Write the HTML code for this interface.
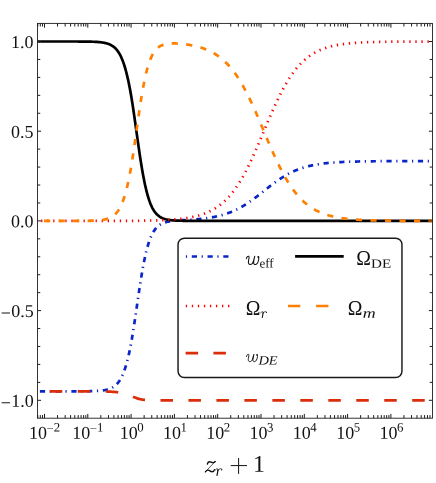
<!DOCTYPE html>
<html><head><meta charset="utf-8"><title>plot</title>
<style>
html,body{margin:0;padding:0;background:#fff;}
svg{display:block;will-change:transform;font-family:"Liberation Serif",serif;fill:#111;}
</style></head><body>
<svg width="436" height="483" viewBox="0 0 436 483">
<rect width="436" height="483" fill="#fff"/>
<defs><clipPath id="c"><rect x="37.45" y="23.40" width="395.05" height="394.80"/></clipPath></defs>
<g clip-path="url(#c)">
<path d="M37.45 391.33 L38.38 391.33 L39.44 391.33 L40.51 391.33 L41.57 391.33 L42.64 391.33 L43.70 391.33 L44.77 391.33 L45.83 391.33 L46.90 391.33 L47.96 391.33 L49.03 391.33 L50.09 391.33 L51.16 391.33 L52.22 391.33 L53.29 391.33 L54.35 391.33 L55.42 391.33 L56.48 391.33 L57.55 391.33 L58.61 391.33 L59.68 391.33 L60.74 391.33 L61.80 391.33 L62.87 391.33 L63.93 391.33 L65.00 391.33 L66.06 391.33 L67.13 391.33 L68.19 391.33 L69.26 391.32 L70.32 391.32 L71.39 391.32 L72.45 391.32 L73.52 391.32 L74.58 391.32 L75.65 391.32 L76.71 391.31 L77.78 391.31 L78.84 391.31 L79.91 391.30 L80.97 391.30 L82.04 391.29 L83.10 391.28 L84.17 391.28 L85.23 391.27 L86.30 391.26 L87.36 391.24 L88.43 391.23 L89.49 391.21 L90.56 391.19 L91.62 391.17 L92.69 391.14 L93.75 391.10 L94.82 391.06 L95.88 391.02 L96.94 390.96 L97.74 390.91 L98.54 390.86 L99.34 390.80 L100.14 390.73 L100.94 390.66 L101.74 390.57 L102.54 390.47 L103.33 390.36 L104.13 390.24 L104.93 390.10 L105.73 389.94 L106.53 389.77 L107.33 389.57 L108.13 389.34 L108.92 389.09 L109.72 388.80 L110.52 388.48 L111.32 388.12 L112.12 387.72 L112.92 387.27 L113.72 386.76 L114.51 386.18 L115.31 385.54 L116.11 384.82 L116.91 384.02 L117.71 383.12 L118.24 382.46 L118.77 381.76 L119.31 381.00 L119.84 380.18 L120.37 379.31 L120.90 378.37 L121.44 377.36 L121.97 376.29 L122.50 375.13 L123.03 373.90 L123.57 372.59 L124.10 371.19 L124.63 369.70 L124.90 368.92 L125.16 368.12 L125.43 367.29 L125.70 366.43 L125.96 365.56 L126.23 364.65 L126.49 363.72 L126.76 362.77 L127.03 361.79 L127.29 360.78 L127.56 359.74 L127.83 358.68 L128.09 357.59 L128.36 356.47 L128.62 355.32 L128.89 354.15 L129.16 352.95 L129.42 351.72 L129.69 350.46 L129.95 349.18 L130.22 347.87 L130.49 346.53 L130.75 345.17 L131.02 343.78 L131.29 342.31 L131.55 340.80 L131.82 339.25 L132.08 337.68 L132.35 336.09 L132.62 334.46 L132.88 332.82 L133.15 331.15 L133.42 329.46 L133.68 327.76 L133.95 326.03 L134.21 324.28 L134.48 322.52 L134.75 320.74 L135.01 318.95 L135.28 317.15 L135.55 315.34 L135.81 313.52 L136.08 311.69 L136.34 309.86 L136.61 308.02 L136.88 306.19 L137.14 304.35 L137.41 302.51 L137.67 300.68 L137.94 298.85 L138.21 297.03 L138.47 295.22 L138.74 293.42 L139.01 291.63 L139.27 289.85 L139.54 288.09 L139.80 286.34 L140.07 284.61 L140.34 282.90 L140.60 281.21 L140.87 279.55 L141.14 277.90 L141.40 276.28 L141.67 274.68 L141.93 273.11 L142.20 271.56 L142.47 270.04 L142.73 268.55 L143.00 267.09 L143.27 265.65 L143.53 264.25 L143.80 262.87 L144.06 261.53 L144.33 260.21 L144.60 258.92 L144.86 257.67 L145.13 256.44 L145.40 255.25 L145.66 254.08 L145.93 252.95 L146.19 251.85 L146.46 250.77 L146.73 249.73 L146.99 248.71 L147.26 247.72 L147.52 246.77 L147.79 245.84 L148.06 244.93 L148.32 244.06 L148.59 243.21 L148.86 242.39 L149.12 241.59 L149.39 240.82 L149.92 239.36 L150.45 237.98 L150.99 236.70 L151.52 235.51 L152.05 234.39 L152.58 233.35 L153.12 232.39 L153.65 231.49 L154.18 230.66 L154.71 229.89 L155.24 229.17 L155.78 228.50 L156.31 227.89 L157.11 227.05 L157.91 226.31 L158.71 225.64 L159.50 225.05 L160.30 224.53 L161.10 224.06 L161.90 223.65 L162.70 223.28 L163.50 222.96 L164.30 222.67 L165.09 222.41 L165.89 222.18 L166.69 221.98 L167.49 221.79 L168.29 221.63 L169.09 221.48 L169.89 221.35 L170.69 221.23 L171.48 221.12 L172.28 221.03 L173.08 220.94 L173.88 220.86 L174.68 220.78 L175.48 220.71 L176.28 220.65 L177.07 220.59 L177.87 220.53 L178.67 220.47 L179.47 220.42 L180.27 220.37 L181.07 220.32 L181.87 220.27 L182.66 220.22 L183.46 220.18 L184.26 220.13 L185.06 220.08 L185.86 220.04 L186.66 219.99 L187.46 219.94 L188.26 219.89 L189.05 219.84 L189.85 219.79 L190.65 219.74 L191.45 219.68 L192.25 219.63 L193.05 219.57 L193.85 219.51 L194.64 219.45 L195.44 219.38 L196.24 219.32 L197.04 219.25 L197.84 219.18 L198.64 219.10 L199.44 219.03 L200.23 218.95 L201.03 218.86 L201.83 218.78 L202.63 218.69 L203.43 218.59 L204.23 218.50 L205.03 218.40 L205.82 218.29 L206.62 218.18 L207.42 218.07 L208.22 217.95 L209.02 217.83 L209.82 217.71 L210.62 217.58 L211.42 217.44 L212.21 217.30 L213.01 217.15 L213.81 217.00 L214.61 216.84 L215.41 216.68 L216.21 216.51 L217.01 216.33 L217.80 216.15 L218.60 215.96 L219.40 215.76 L220.20 215.56 L221.00 215.35 L221.80 215.13 L222.60 214.91 L223.39 214.67 L224.19 214.43 L224.99 214.19 L225.79 213.93 L226.59 213.66 L227.39 213.39 L228.19 213.10 L228.99 212.81 L229.78 212.51 L230.58 212.20 L231.38 211.88 L232.18 211.55 L232.98 211.21 L233.78 210.86 L234.58 210.50 L235.37 210.13 L236.17 209.75 L236.97 209.36 L237.77 208.96 L238.57 208.55 L239.37 208.12 L240.17 207.69 L240.96 207.25 L241.76 206.80 L242.56 206.33 L243.36 205.86 L244.16 205.38 L244.96 204.89 L245.76 204.38 L246.56 203.87 L247.35 203.35 L248.15 202.82 L248.95 202.28 L249.75 201.73 L250.55 201.17 L251.35 200.60 L252.15 200.03 L252.94 199.45 L253.74 198.86 L254.54 198.27 L255.34 197.67 L256.14 197.06 L256.94 196.45 L257.74 195.84 L258.53 195.21 L259.33 194.59 L260.13 193.96 L260.93 193.33 L261.73 192.70 L262.53 192.07 L263.33 191.43 L264.13 190.80 L264.92 190.16 L265.72 189.53 L266.52 188.90 L267.32 188.27 L268.12 187.64 L268.92 187.01 L269.72 186.39 L270.51 185.77 L271.31 185.16 L272.11 184.55 L272.91 183.95 L273.71 183.35 L274.51 182.76 L275.31 182.18 L276.10 181.60 L276.90 181.04 L277.70 180.48 L278.50 179.92 L279.30 179.38 L280.10 178.85 L280.90 178.32 L281.69 177.80 L282.49 177.30 L283.29 176.80 L284.09 176.31 L284.89 175.84 L285.69 175.37 L286.49 174.91 L287.29 174.47 L288.08 174.03 L288.88 173.61 L289.68 173.19 L290.48 172.79 L291.28 172.39 L292.08 172.01 L292.88 171.64 L293.67 171.27 L294.47 170.92 L295.27 170.58 L296.07 170.24 L296.87 169.92 L297.67 169.60 L298.47 169.30 L299.26 169.00 L300.06 168.72 L300.86 168.44 L301.66 168.17 L302.46 167.91 L303.26 167.66 L304.06 167.41 L304.86 167.18 L305.65 166.95 L306.45 166.73 L307.25 166.52 L308.05 166.31 L308.85 166.11 L309.65 165.92 L310.45 165.74 L311.24 165.56 L312.04 165.38 L312.84 165.22 L313.64 165.06 L314.44 164.90 L315.24 164.76 L316.04 164.61 L316.83 164.48 L317.63 164.34 L318.43 164.21 L319.23 164.09 L320.03 163.97 L320.83 163.86 L321.63 163.75 L322.43 163.64 L323.22 163.54 L324.02 163.45 L324.82 163.35 L325.62 163.26 L326.42 163.17 L327.22 163.09 L328.02 163.01 L328.81 162.93 L329.61 162.86 L330.41 162.79 L331.21 162.72 L332.01 162.65 L332.81 162.59 L333.61 162.53 L334.40 162.47 L335.20 162.42 L336.00 162.36 L336.80 162.31 L337.60 162.26 L338.40 162.22 L339.46 162.15 L340.53 162.10 L341.59 162.04 L342.66 161.99 L343.72 161.94 L344.79 161.90 L345.85 161.85 L346.92 161.81 L347.98 161.77 L349.05 161.74 L350.11 161.70 L351.18 161.67 L352.24 161.64 L353.31 161.61 L354.37 161.58 L355.44 161.56 L356.50 161.53 L357.57 161.51 L358.63 161.49 L359.69 161.46 L360.76 161.44 L361.82 161.43 L362.89 161.41 L363.95 161.39 L365.02 161.37 L366.08 161.36 L367.15 161.35 L368.21 161.33 L369.28 161.32 L370.34 161.31 L371.41 161.30 L372.47 161.29 L373.54 161.27 L374.60 161.27 L375.67 161.26 L376.73 161.25 L377.80 161.24 L378.86 161.23 L379.93 161.22 L380.99 161.22 L382.06 161.21 L383.12 161.21 L384.19 161.20 L385.25 161.19 L386.32 161.19 L387.38 161.18 L388.45 161.18 L389.51 161.17 L390.58 161.17 L391.64 161.17 L392.70 161.16 L393.77 161.16 L394.83 161.16 L395.90 161.15 L396.96 161.15 L398.03 161.15 L399.09 161.15 L400.16 161.14 L401.22 161.14 L402.29 161.14 L403.35 161.14 L404.42 161.13 L405.48 161.13 L406.55 161.13 L407.61 161.13 L408.68 161.13 L409.74 161.13 L410.81 161.12 L411.87 161.12 L412.94 161.12 L414.00 161.12 L415.07 161.12 L416.13 161.12 L417.20 161.12 L418.26 161.12 L419.33 161.12 L420.39 161.11 L421.46 161.11 L422.52 161.11 L423.59 161.11 L424.65 161.11 L425.72 161.11 L426.78 161.11 L427.84 161.11 L428.91 161.11 L429.97 161.11 L431.04 161.11 L432.10 161.11 L433.17 161.11 L434.23 161.11" fill="none" stroke="#0a26c8" stroke-width="2.7" stroke-dasharray="1.2 4.7 5.2 4.635" stroke-dashoffset="3.45" stroke-linejoin="round"/>
<path d="M37.45 41.50 L38.38 41.50 L39.44 41.50 L40.51 41.50 L41.57 41.50 L42.64 41.50 L43.70 41.50 L44.77 41.50 L45.83 41.50 L46.90 41.50 L47.96 41.50 L49.03 41.50 L50.09 41.50 L51.16 41.50 L52.22 41.50 L53.29 41.50 L54.35 41.50 L55.42 41.50 L56.48 41.50 L57.55 41.50 L58.61 41.50 L59.68 41.50 L60.74 41.50 L61.80 41.50 L62.87 41.50 L63.93 41.50 L65.00 41.50 L66.06 41.50 L67.13 41.50 L68.19 41.51 L69.26 41.51 L70.32 41.51 L71.39 41.51 L72.45 41.51 L73.52 41.51 L74.58 41.51 L75.65 41.52 L76.71 41.52 L77.78 41.52 L78.84 41.53 L79.91 41.53 L80.97 41.54 L82.04 41.55 L83.10 41.55 L84.17 41.56 L85.23 41.57 L86.30 41.59 L87.36 41.60 L88.43 41.62 L89.49 41.64 L90.56 41.66 L91.62 41.69 L92.69 41.73 L93.75 41.77 L94.82 41.81 L95.88 41.87 L96.68 41.92 L97.48 41.97 L98.28 42.03 L99.07 42.10 L99.87 42.17 L100.67 42.26 L101.47 42.36 L102.27 42.47 L103.07 42.59 L103.87 42.73 L104.66 42.89 L105.46 43.07 L106.26 43.27 L107.06 43.49 L107.86 43.74 L108.66 44.03 L109.46 44.35 L110.26 44.71 L111.05 45.11 L111.85 45.57 L112.65 46.08 L113.45 46.65 L114.25 47.29 L115.05 48.01 L115.85 48.81 L116.64 49.71 L117.18 50.36 L117.71 51.07 L118.24 51.83 L118.77 52.64 L119.31 53.51 L119.84 54.45 L120.37 55.45 L120.90 56.53 L121.44 57.68 L121.97 58.91 L122.50 60.22 L123.03 61.61 L123.57 63.10 L123.83 63.88 L124.10 64.68 L124.36 65.51 L124.63 66.36 L124.90 67.24 L125.16 68.14 L125.43 69.07 L125.70 70.02 L125.96 71.00 L126.23 72.01 L126.49 73.05 L126.76 74.11 L127.03 75.20 L127.29 76.32 L127.56 77.47 L127.83 78.64 L128.09 79.84 L128.36 81.08 L128.62 82.33 L128.89 83.62 L129.16 84.94 L129.42 86.28 L129.69 87.65 L129.95 89.04 L130.22 90.47 L130.49 91.92 L130.75 93.39 L131.02 94.89 L131.29 96.48 L131.55 98.11 L131.82 99.77 L132.08 101.45 L132.35 103.16 L132.62 104.89 L132.88 106.64 L133.15 108.41 L133.42 110.21 L133.68 112.02 L133.95 113.84 L134.21 115.68 L134.48 117.54 L134.75 119.41 L135.01 121.28 L135.28 123.17 L135.55 125.06 L135.81 126.96 L136.08 128.86 L136.34 130.77 L136.61 132.68 L136.88 134.58 L137.14 136.48 L137.41 138.38 L137.67 140.27 L137.94 142.15 L138.21 144.02 L138.47 145.88 L138.74 147.73 L139.01 149.56 L139.27 151.38 L139.54 153.18 L139.80 154.96 L140.07 156.72 L140.34 158.46 L140.60 160.18 L140.87 161.88 L141.14 163.55 L141.40 165.19 L141.67 166.81 L141.93 168.40 L142.20 169.97 L142.47 171.50 L142.73 173.01 L143.00 174.49 L143.27 175.93 L143.53 177.35 L143.80 178.73 L144.06 180.09 L144.33 181.41 L144.60 182.71 L144.86 183.97 L145.13 185.20 L145.40 186.40 L145.66 187.57 L145.93 188.71 L146.19 189.81 L146.46 190.89 L146.73 191.94 L146.99 192.95 L147.26 193.94 L147.52 194.90 L147.79 195.83 L148.06 196.73 L148.32 197.61 L148.59 198.46 L148.86 199.28 L149.12 200.07 L149.39 200.84 L149.92 202.31 L150.45 203.68 L150.99 204.96 L151.52 206.15 L152.05 207.26 L152.58 208.29 L153.12 209.25 L153.65 210.15 L154.18 210.97 L154.71 211.74 L155.24 212.45 L155.78 213.11 L156.31 213.72 L157.11 214.55 L157.91 215.29 L158.71 215.94 L159.50 216.52 L160.30 217.03 L161.10 217.49 L161.90 217.89 L162.70 218.25 L163.50 218.56 L164.30 218.84 L165.09 219.08 L165.89 219.30 L166.69 219.49 L167.49 219.66 L168.29 219.80 L169.09 219.93 L169.89 220.05 L170.69 220.15 L171.48 220.24 L172.28 220.32 L173.08 220.39 L173.88 220.45 L174.68 220.50 L175.48 220.55 L176.54 220.61 L177.61 220.65 L178.67 220.69 L179.74 220.72 L180.80 220.75 L181.87 220.77 L182.93 220.79 L184.00 220.81 L185.06 220.82 L186.13 220.84 L187.19 220.85 L188.26 220.85 L189.32 220.86 L190.38 220.87 L191.45 220.87 L192.51 220.88 L193.58 220.88 L194.64 220.88 L195.71 220.89 L196.77 220.89 L197.84 220.89 L198.90 220.89 L199.97 220.89 L201.03 220.89 L202.10 220.90 L203.16 220.90 L204.23 220.90 L205.29 220.90 L206.36 220.90 L207.42 220.90 L208.49 220.90 L209.55 220.90 L210.62 220.90 L211.68 220.90 L212.75 220.90 L213.81 220.90 L214.88 220.90 L215.94 220.90 L217.01 220.90 L218.07 220.90 L219.14 220.90 L220.20 220.90 L221.27 220.90 L222.33 220.90 L223.39 220.90 L224.46 220.90 L225.52 220.90 L226.59 220.90 L227.65 220.90 L228.72 220.90 L229.78 220.90 L230.85 220.90 L231.91 220.90 L232.98 220.90 L234.04 220.90 L235.11 220.90 L236.17 220.90 L237.24 220.90 L238.30 220.90 L239.37 220.90 L240.43 220.90 L241.50 220.90 L242.56 220.90 L243.63 220.90 L244.69 220.90 L245.76 220.90 L246.82 220.90 L247.89 220.90 L248.95 220.90 L250.02 220.90 L251.08 220.90 L252.15 220.90 L253.21 220.90 L254.28 220.90 L255.34 220.90 L256.40 220.90 L257.47 220.90 L258.53 220.90 L259.60 220.90 L260.66 220.90 L261.73 220.90 L262.79 220.90 L263.86 220.90 L264.92 220.90 L265.99 220.90 L267.05 220.90 L268.12 220.90 L269.18 220.90 L270.25 220.90 L271.31 220.90 L272.38 220.90 L273.44 220.90 L274.51 220.90 L275.57 220.90 L276.64 220.90 L277.70 220.90 L278.77 220.90 L279.83 220.90 L280.90 220.90 L281.96 220.90 L283.03 220.90 L284.09 220.90 L285.16 220.90 L286.22 220.90 L287.29 220.90 L288.35 220.90 L289.42 220.90 L290.48 220.90 L291.54 220.90 L292.61 220.90 L293.67 220.90 L294.74 220.90 L295.80 220.90 L296.87 220.90 L297.93 220.90 L299.00 220.90 L300.06 220.90 L301.13 220.90 L302.19 220.90 L303.26 220.90 L304.32 220.90 L305.39 220.90 L306.45 220.90 L307.52 220.90 L308.58 220.90 L309.65 220.90 L310.71 220.90 L311.78 220.90 L312.84 220.90 L313.91 220.90 L314.97 220.90 L316.04 220.90 L317.10 220.90 L318.17 220.90 L319.23 220.90 L320.30 220.90 L321.36 220.90 L322.43 220.90 L323.49 220.90 L324.55 220.90 L325.62 220.90 L326.68 220.90 L327.75 220.90 L328.81 220.90 L329.88 220.90 L330.94 220.90 L332.01 220.90 L333.07 220.90 L334.14 220.90 L335.20 220.90 L336.27 220.90 L337.33 220.90 L338.40 220.90 L339.46 220.90 L340.53 220.90 L341.59 220.90 L342.66 220.90 L343.72 220.90 L344.79 220.90 L345.85 220.90 L346.92 220.90 L347.98 220.90 L349.05 220.90 L350.11 220.90 L351.18 220.90 L352.24 220.90 L353.31 220.90 L354.37 220.90 L355.44 220.90 L356.50 220.90 L357.57 220.90 L358.63 220.90 L359.69 220.90 L360.76 220.90 L361.82 220.90 L362.89 220.90 L363.95 220.90 L365.02 220.90 L366.08 220.90 L367.15 220.90 L368.21 220.90 L369.28 220.90 L370.34 220.90 L371.41 220.90 L372.47 220.90 L373.54 220.90 L374.60 220.90 L375.67 220.90 L376.73 220.90 L377.80 220.90 L378.86 220.90 L379.93 220.90 L380.99 220.90 L382.06 220.90 L383.12 220.90 L384.19 220.90 L385.25 220.90 L386.32 220.90 L387.38 220.90 L388.45 220.90 L389.51 220.90 L390.58 220.90 L391.64 220.90 L392.70 220.90 L393.77 220.90 L394.83 220.90 L395.90 220.90 L396.96 220.90 L398.03 220.90 L399.09 220.90 L400.16 220.90 L401.22 220.90 L402.29 220.90 L403.35 220.90 L404.42 220.90 L405.48 220.90 L406.55 220.90 L407.61 220.90 L408.68 220.90 L409.74 220.90 L410.81 220.90 L411.87 220.90 L412.94 220.90 L414.00 220.90 L415.07 220.90 L416.13 220.90 L417.20 220.90 L418.26 220.90 L419.33 220.90 L420.39 220.90 L421.46 220.90 L422.52 220.90 L423.59 220.90 L424.65 220.90 L425.72 220.90 L426.78 220.90 L427.84 220.90 L428.91 220.90 L429.97 220.90 L431.04 220.90 L432.10 220.90 L433.17 220.90 L434.23 220.90" fill="none" stroke="#000" stroke-width="2.7" stroke-linejoin="round"/>
<path d="M37.45 220.90 L38.38 220.90 L39.44 220.90 L40.51 220.90 L41.57 220.90 L42.64 220.90 L43.70 220.90 L44.77 220.90 L45.83 220.90 L46.90 220.90 L47.96 220.90 L49.03 220.90 L50.09 220.90 L51.16 220.90 L52.22 220.90 L53.29 220.90 L54.35 220.90 L55.42 220.90 L56.48 220.90 L57.55 220.90 L58.61 220.90 L59.68 220.90 L60.74 220.90 L61.80 220.90 L62.87 220.90 L63.93 220.90 L65.00 220.90 L66.06 220.90 L67.13 220.90 L68.19 220.90 L69.26 220.90 L70.32 220.90 L71.39 220.90 L72.45 220.90 L73.52 220.90 L74.58 220.90 L75.65 220.90 L76.71 220.90 L77.78 220.90 L78.84 220.90 L79.91 220.90 L80.97 220.90 L82.04 220.90 L83.10 220.90 L84.17 220.90 L85.23 220.90 L86.30 220.90 L87.36 220.90 L88.43 220.90 L89.49 220.90 L90.56 220.90 L91.62 220.90 L92.69 220.90 L93.75 220.90 L94.82 220.90 L95.88 220.90 L96.94 220.90 L98.01 220.90 L99.07 220.90 L100.14 220.90 L101.20 220.90 L102.27 220.90 L103.33 220.90 L104.40 220.90 L105.46 220.90 L106.53 220.90 L107.59 220.90 L108.66 220.90 L109.72 220.90 L110.79 220.90 L111.85 220.90 L112.92 220.90 L113.98 220.90 L115.05 220.90 L116.11 220.90 L117.18 220.90 L118.24 220.90 L119.31 220.89 L120.37 220.89 L121.44 220.89 L122.50 220.89 L123.57 220.89 L124.63 220.88 L125.70 220.88 L126.76 220.88 L127.83 220.87 L128.89 220.87 L129.95 220.86 L131.02 220.85 L132.08 220.85 L133.15 220.84 L134.21 220.82 L135.28 220.81 L136.34 220.80 L137.41 220.78 L138.47 220.77 L139.54 220.75 L140.60 220.73 L141.67 220.71 L142.73 220.69 L143.80 220.67 L144.86 220.65 L145.93 220.62 L146.99 220.60 L148.06 220.57 L149.12 220.55 L150.19 220.52 L151.25 220.49 L152.32 220.46 L153.38 220.43 L154.45 220.40 L155.51 220.36 L156.58 220.33 L157.64 220.29 L158.71 220.25 L159.77 220.21 L160.84 220.17 L161.90 220.12 L162.96 220.08 L164.03 220.03 L165.09 219.98 L166.16 219.92 L167.22 219.86 L168.29 219.80 L169.09 219.75 L169.89 219.70 L170.69 219.65 L171.48 219.60 L172.28 219.54 L173.08 219.48 L173.88 219.42 L174.68 219.35 L175.48 219.29 L176.28 219.22 L177.07 219.14 L177.87 219.07 L178.67 218.99 L179.47 218.91 L180.27 218.82 L181.07 218.73 L181.87 218.64 L182.66 218.54 L183.46 218.44 L184.26 218.34 L185.06 218.23 L185.86 218.11 L186.66 217.99 L187.46 217.87 L188.26 217.74 L189.05 217.61 L189.85 217.47 L190.65 217.32 L191.45 217.17 L192.25 217.01 L193.05 216.84 L193.85 216.67 L194.64 216.49 L195.44 216.31 L196.24 216.11 L197.04 215.91 L197.84 215.70 L198.64 215.48 L199.44 215.25 L200.23 215.02 L201.03 214.77 L201.83 214.51 L202.63 214.25 L203.43 213.97 L204.23 213.68 L205.03 213.38 L205.82 213.07 L206.62 212.74 L207.42 212.41 L208.22 212.06 L209.02 211.69 L209.82 211.31 L210.62 210.92 L211.42 210.51 L212.21 210.09 L213.01 209.65 L213.81 209.19 L214.61 208.72 L215.41 208.23 L216.21 207.72 L217.01 207.19 L217.80 206.65 L218.60 206.08 L219.40 205.49 L220.20 204.88 L221.00 204.25 L221.80 203.60 L222.60 202.92 L223.39 202.22 L224.19 201.50 L224.99 200.75 L225.79 199.98 L226.59 199.18 L227.39 198.36 L228.19 197.51 L228.99 196.63 L229.52 196.03 L230.05 195.42 L230.58 194.80 L231.11 194.16 L231.65 193.51 L232.18 192.84 L232.71 192.17 L233.24 191.48 L233.78 190.77 L234.31 190.06 L234.84 189.33 L235.37 188.58 L235.91 187.83 L236.44 187.06 L236.97 186.27 L237.50 185.47 L238.04 184.66 L238.57 183.84 L239.10 183.00 L239.63 182.14 L240.17 181.28 L240.70 180.40 L241.23 179.50 L241.76 178.59 L242.30 177.67 L242.83 176.73 L243.36 175.78 L243.89 174.82 L244.43 173.85 L244.96 172.86 L245.49 171.85 L246.02 170.84 L246.56 169.81 L247.09 168.77 L247.62 167.72 L248.15 166.65 L248.68 165.57 L249.22 164.48 L249.75 163.38 L250.28 162.27 L250.81 161.15 L251.35 160.01 L251.88 158.87 L252.41 157.72 L252.94 156.55 L253.48 155.38 L254.01 154.20 L254.54 153.01 L255.07 151.81 L255.61 150.60 L256.14 149.39 L256.67 148.17 L257.20 146.94 L257.74 145.71 L258.27 144.47 L258.80 143.22 L259.33 141.97 L259.87 140.72 L260.40 139.46 L260.93 138.20 L261.46 136.94 L262.00 135.67 L262.53 134.40 L263.06 133.14 L263.59 131.87 L264.13 130.60 L264.66 129.33 L265.19 128.06 L265.72 126.79 L266.25 125.52 L266.79 124.26 L267.32 123.00 L267.85 121.74 L268.38 120.49 L268.92 119.24 L269.45 117.99 L269.98 116.75 L270.51 115.52 L271.05 114.29 L271.58 113.07 L272.11 111.86 L272.64 110.65 L273.18 109.45 L273.71 108.26 L274.24 107.08 L274.77 105.90 L275.31 104.74 L275.84 103.59 L276.37 102.44 L276.90 101.31 L277.44 100.18 L277.97 99.07 L278.50 97.97 L279.03 96.88 L279.57 95.80 L280.10 94.74 L280.63 93.68 L281.16 92.64 L281.69 91.61 L282.23 90.60 L282.76 89.59 L283.29 88.60 L283.82 87.63 L284.36 86.66 L284.89 85.71 L285.42 84.78 L285.95 83.85 L286.49 82.94 L287.02 82.05 L287.55 81.17 L288.08 80.30 L288.62 79.44 L289.15 78.60 L289.68 77.78 L290.21 76.97 L290.75 76.17 L291.28 75.38 L291.81 74.61 L292.34 73.85 L292.88 73.11 L293.41 72.38 L293.94 71.66 L294.47 70.96 L295.01 70.27 L295.54 69.59 L296.07 68.93 L296.60 68.27 L297.14 67.64 L297.67 67.01 L298.20 66.40 L298.73 65.80 L299.53 64.92 L300.33 64.07 L301.13 63.24 L301.93 62.44 L302.73 61.67 L303.52 60.92 L304.32 60.20 L305.12 59.50 L305.92 58.82 L306.72 58.17 L307.52 57.54 L308.32 56.93 L309.11 56.34 L309.91 55.77 L310.71 55.22 L311.51 54.70 L312.31 54.19 L313.11 53.69 L313.91 53.22 L314.71 52.76 L315.50 52.32 L316.30 51.90 L317.10 51.49 L317.90 51.10 L318.70 50.72 L319.50 50.36 L320.30 50.00 L321.09 49.67 L321.89 49.34 L322.69 49.03 L323.49 48.73 L324.29 48.44 L325.09 48.16 L325.89 47.90 L326.68 47.64 L327.48 47.39 L328.28 47.15 L329.08 46.93 L329.88 46.71 L330.68 46.50 L331.48 46.29 L332.28 46.10 L333.07 45.91 L333.87 45.73 L334.67 45.56 L335.47 45.40 L336.27 45.24 L337.07 45.09 L337.87 44.94 L338.66 44.80 L339.46 44.66 L340.26 44.54 L341.06 44.41 L341.86 44.29 L342.66 44.18 L343.46 44.07 L344.25 43.96 L345.05 43.86 L345.85 43.76 L346.65 43.67 L347.45 43.58 L348.25 43.50 L349.05 43.41 L349.84 43.34 L350.64 43.26 L351.44 43.19 L352.24 43.12 L353.04 43.05 L353.84 42.99 L354.64 42.93 L355.44 42.87 L356.23 42.81 L357.03 42.76 L357.83 42.70 L358.63 42.66 L359.43 42.61 L360.49 42.55 L361.56 42.49 L362.62 42.44 L363.69 42.38 L364.75 42.34 L365.82 42.29 L366.88 42.25 L367.95 42.21 L369.01 42.17 L370.08 42.13 L371.14 42.10 L372.21 42.06 L373.27 42.03 L374.34 42.00 L375.40 41.98 L376.47 41.95 L377.53 41.92 L378.60 41.90 L379.66 41.88 L380.73 41.86 L381.79 41.84 L382.86 41.82 L383.92 41.80 L384.98 41.79 L386.05 41.77 L387.11 41.76 L388.18 41.74 L389.24 41.73 L390.31 41.72 L391.37 41.70 L392.44 41.69 L393.50 41.68 L394.57 41.67 L395.63 41.66 L396.70 41.65 L397.76 41.64 L398.83 41.64 L399.89 41.63 L400.96 41.62 L402.02 41.62 L403.09 41.61 L404.15 41.60 L405.22 41.60 L406.28 41.59 L407.35 41.59 L408.41 41.58 L409.48 41.58 L410.54 41.57 L411.61 41.57 L412.67 41.57 L413.74 41.56 L414.80 41.56 L415.87 41.56 L416.93 41.55 L417.99 41.55 L419.06 41.55 L420.12 41.54 L421.19 41.54 L422.25 41.54 L423.32 41.54 L424.38 41.54 L425.45 41.53 L426.51 41.53 L427.58 41.53 L428.64 41.53 L429.71 41.53 L430.77 41.53 L431.84 41.52 L432.90 41.52 L433.97 41.52" fill="none" stroke="#ff0000" stroke-width="2.7" stroke-dasharray="1.3 4.752" stroke-dashoffset="2.4" stroke-linejoin="round"/>
<path d="M37.45 220.90 L38.38 220.90 L39.44 220.90 L40.51 220.90 L41.57 220.90 L42.64 220.90 L43.70 220.90 L44.77 220.90 L45.83 220.90 L46.90 220.90 L47.96 220.90 L49.03 220.90 L50.09 220.90 L51.16 220.90 L52.22 220.90 L53.29 220.90 L54.35 220.90 L55.42 220.90 L56.48 220.90 L57.55 220.90 L58.61 220.90 L59.68 220.90 L60.74 220.90 L61.80 220.90 L62.87 220.90 L63.93 220.90 L65.00 220.90 L66.06 220.90 L67.13 220.90 L68.19 220.89 L69.26 220.89 L70.32 220.89 L71.39 220.89 L72.45 220.89 L73.52 220.89 L74.58 220.89 L75.65 220.88 L76.71 220.88 L77.78 220.88 L78.84 220.87 L79.91 220.87 L80.97 220.86 L82.04 220.85 L83.10 220.85 L84.17 220.84 L85.23 220.83 L86.30 220.81 L87.36 220.80 L88.43 220.78 L89.49 220.76 L90.56 220.74 L91.62 220.71 L92.69 220.67 L93.75 220.63 L94.82 220.59 L95.88 220.53 L96.68 220.48 L97.48 220.43 L98.28 220.37 L99.07 220.30 L99.87 220.23 L100.67 220.14 L101.47 220.04 L102.27 219.93 L103.07 219.81 L103.87 219.67 L104.66 219.51 L105.46 219.33 L106.26 219.14 L107.06 218.91 L107.86 218.66 L108.66 218.37 L109.46 218.05 L110.26 217.69 L111.05 217.29 L111.85 216.84 L112.65 216.33 L113.45 215.75 L114.25 215.11 L115.05 214.40 L115.85 213.59 L116.64 212.70 L117.18 212.04 L117.71 211.34 L118.24 210.58 L118.77 209.76 L119.31 208.89 L119.84 207.96 L120.37 206.95 L120.90 205.88 L121.44 204.73 L121.97 203.50 L122.50 202.19 L123.03 200.80 L123.57 199.31 L123.83 198.53 L124.10 197.73 L124.36 196.91 L124.63 196.05 L124.90 195.18 L125.16 194.28 L125.43 193.35 L125.70 192.40 L125.96 191.41 L126.23 190.41 L126.49 189.37 L126.76 188.31 L127.03 187.22 L127.29 186.10 L127.56 184.96 L127.83 183.78 L128.09 182.58 L128.36 181.35 L128.62 180.10 L128.89 178.81 L129.16 177.50 L129.42 176.16 L129.69 174.79 L129.95 173.39 L130.22 171.97 L130.49 170.52 L130.75 169.05 L131.02 167.55 L131.29 165.97 L131.55 164.34 L131.82 162.68 L132.08 161.00 L132.35 159.30 L132.62 157.57 L132.88 155.82 L133.15 154.05 L133.42 152.26 L133.68 150.45 L133.95 148.63 L134.21 146.79 L134.48 144.94 L134.75 143.08 L135.01 141.20 L135.28 139.32 L135.55 137.43 L135.81 135.53 L136.08 133.63 L136.34 131.73 L136.61 129.83 L136.88 127.93 L137.14 126.03 L137.41 124.14 L137.67 122.25 L137.94 120.38 L138.21 118.51 L138.47 116.65 L138.74 114.81 L139.01 112.98 L139.27 111.17 L139.54 109.37 L139.80 107.59 L140.07 105.84 L140.34 104.10 L140.60 102.39 L140.87 100.70 L141.14 99.03 L141.40 97.39 L141.67 95.78 L141.93 94.19 L142.20 92.63 L142.47 91.10 L142.73 89.60 L143.00 88.13 L143.27 86.69 L143.53 85.28 L143.80 83.90 L144.06 82.55 L144.33 81.23 L144.60 79.94 L144.86 78.68 L145.13 77.46 L145.40 76.27 L145.66 75.10 L145.93 73.97 L146.19 72.87 L146.46 71.80 L146.73 70.76 L146.99 69.75 L147.26 68.77 L147.52 67.81 L147.79 66.89 L148.06 65.99 L148.32 65.12 L148.59 64.28 L148.86 63.47 L149.12 62.68 L149.39 61.92 L149.92 60.47 L150.45 59.11 L150.99 57.85 L151.52 56.67 L152.05 55.57 L152.58 54.55 L153.12 53.61 L153.65 52.73 L154.18 51.92 L154.71 51.17 L155.24 50.47 L155.78 49.83 L156.58 48.96 L157.37 48.19 L158.17 47.51 L158.97 46.92 L159.77 46.39 L160.57 45.93 L161.37 45.53 L162.17 45.17 L162.96 44.87 L163.76 44.60 L164.56 44.38 L165.36 44.18 L166.16 44.02 L166.96 43.88 L167.76 43.76 L168.56 43.67 L169.35 43.59 L170.15 43.53 L171.22 43.47 L172.28 43.44 L173.35 43.43 L174.41 43.44 L175.48 43.46 L176.54 43.50 L177.61 43.55 L178.41 43.60 L179.20 43.66 L180.00 43.72 L180.80 43.79 L181.60 43.86 L182.40 43.94 L183.20 44.03 L184.00 44.12 L184.79 44.21 L185.59 44.32 L186.39 44.43 L187.19 44.54 L187.99 44.66 L188.79 44.79 L189.59 44.92 L190.38 45.06 L191.18 45.21 L191.98 45.36 L192.78 45.52 L193.58 45.69 L194.38 45.86 L195.18 46.05 L195.98 46.24 L196.77 46.43 L197.57 46.64 L198.37 46.85 L199.17 47.08 L199.97 47.31 L200.77 47.55 L201.57 47.81 L202.36 48.07 L203.16 48.34 L203.96 48.63 L204.76 48.92 L205.56 49.23 L206.36 49.55 L207.16 49.88 L207.95 50.23 L208.75 50.59 L209.55 50.96 L210.35 51.35 L211.15 51.75 L211.95 52.17 L212.75 52.60 L213.55 53.05 L214.34 53.52 L215.14 54.00 L215.94 54.51 L216.74 55.03 L217.54 55.57 L218.34 56.13 L219.14 56.71 L219.93 57.31 L220.73 57.94 L221.53 58.58 L222.33 59.25 L223.13 59.94 L223.93 60.65 L224.73 61.39 L225.52 62.16 L226.32 62.95 L227.12 63.76 L227.92 64.60 L228.72 65.47 L229.52 66.37 L230.05 66.98 L230.58 67.60 L231.11 68.24 L231.65 68.89 L232.18 69.56 L232.71 70.23 L233.24 70.92 L233.78 71.63 L234.31 72.34 L234.84 73.07 L235.37 73.82 L235.91 74.57 L236.44 75.34 L236.97 76.13 L237.50 76.93 L238.04 77.74 L238.57 78.56 L239.10 79.40 L239.63 80.26 L240.17 81.12 L240.70 82.00 L241.23 82.90 L241.76 83.81 L242.30 84.73 L242.83 85.67 L243.36 86.62 L243.89 87.58 L244.43 88.55 L244.96 89.54 L245.49 90.55 L246.02 91.56 L246.56 92.59 L247.09 93.63 L247.62 94.68 L248.15 95.75 L248.68 96.83 L249.22 97.92 L249.75 99.02 L250.28 100.13 L250.81 101.25 L251.35 102.39 L251.88 103.53 L252.41 104.68 L252.94 105.85 L253.48 107.02 L254.01 108.20 L254.54 109.39 L255.07 110.59 L255.61 111.80 L256.14 113.01 L256.67 114.23 L257.20 115.46 L257.74 116.69 L258.27 117.93 L258.80 119.18 L259.33 120.43 L259.87 121.68 L260.40 122.94 L260.93 124.20 L261.46 125.46 L262.00 126.73 L262.53 128.00 L263.06 129.26 L263.59 130.53 L264.13 131.80 L264.66 133.07 L265.19 134.34 L265.72 135.61 L266.25 136.88 L266.79 138.14 L267.32 139.40 L267.85 140.66 L268.38 141.91 L268.92 143.16 L269.45 144.41 L269.98 145.65 L270.51 146.88 L271.05 148.11 L271.58 149.33 L272.11 150.54 L272.64 151.75 L273.18 152.95 L273.71 154.14 L274.24 155.32 L274.77 156.50 L275.31 157.66 L275.84 158.81 L276.37 159.96 L276.90 161.09 L277.44 162.22 L277.97 163.33 L278.50 164.43 L279.03 165.52 L279.57 166.60 L280.10 167.66 L280.63 168.72 L281.16 169.76 L281.69 170.79 L282.23 171.80 L282.76 172.81 L283.29 173.80 L283.82 174.77 L284.36 175.74 L284.89 176.69 L285.42 177.62 L285.95 178.55 L286.49 179.46 L287.02 180.35 L287.55 181.23 L288.08 182.10 L288.62 182.96 L289.15 183.80 L289.68 184.62 L290.21 185.43 L290.75 186.23 L291.28 187.02 L291.81 187.79 L292.34 188.55 L292.88 189.29 L293.41 190.02 L293.94 190.74 L294.47 191.44 L295.01 192.13 L295.54 192.81 L296.07 193.47 L296.60 194.13 L297.14 194.76 L297.67 195.39 L298.20 196.00 L298.73 196.60 L299.53 197.48 L300.33 198.33 L301.13 199.16 L301.93 199.96 L302.73 200.73 L303.52 201.48 L304.32 202.20 L305.12 202.90 L305.92 203.58 L306.72 204.23 L307.52 204.86 L308.32 205.47 L309.11 206.06 L309.91 206.63 L310.71 207.18 L311.51 207.70 L312.31 208.21 L313.11 208.71 L313.91 209.18 L314.71 209.64 L315.50 210.08 L316.30 210.50 L317.10 210.91 L317.90 211.30 L318.70 211.68 L319.50 212.04 L320.30 212.40 L321.09 212.73 L321.89 213.06 L322.69 213.37 L323.49 213.67 L324.29 213.96 L325.09 214.24 L325.89 214.50 L326.68 214.76 L327.48 215.01 L328.28 215.25 L329.08 215.47 L329.88 215.69 L330.68 215.90 L331.48 216.11 L332.28 216.30 L333.07 216.49 L333.87 216.67 L334.67 216.84 L335.47 217.00 L336.27 217.16 L337.07 217.31 L337.87 217.46 L338.66 217.60 L339.46 217.74 L340.26 217.86 L341.06 217.99 L341.86 218.11 L342.66 218.22 L343.46 218.33 L344.25 218.44 L345.05 218.54 L345.85 218.64 L346.65 218.73 L347.45 218.82 L348.25 218.90 L349.05 218.99 L349.84 219.06 L350.64 219.14 L351.44 219.21 L352.24 219.28 L353.04 219.35 L353.84 219.41 L354.64 219.47 L355.44 219.53 L356.23 219.59 L357.03 219.64 L357.83 219.70 L358.63 219.74 L359.43 219.79 L360.49 219.85 L361.56 219.91 L362.62 219.96 L363.69 220.02 L364.75 220.06 L365.82 220.11 L366.88 220.15 L367.95 220.19 L369.01 220.23 L370.08 220.27 L371.14 220.30 L372.21 220.34 L373.27 220.37 L374.34 220.40 L375.40 220.42 L376.47 220.45 L377.53 220.48 L378.60 220.50 L379.66 220.52 L380.73 220.54 L381.79 220.56 L382.86 220.58 L383.92 220.60 L384.98 220.61 L386.05 220.63 L387.11 220.64 L388.18 220.66 L389.24 220.67 L390.31 220.68 L391.37 220.70 L392.44 220.71 L393.50 220.72 L394.57 220.73 L395.63 220.74 L396.70 220.75 L397.76 220.76 L398.83 220.76 L399.89 220.77 L400.96 220.78 L402.02 220.78 L403.09 220.79 L404.15 220.80 L405.22 220.80 L406.28 220.81 L407.35 220.81 L408.41 220.82 L409.48 220.82 L410.54 220.83 L411.61 220.83 L412.67 220.83 L413.74 220.84 L414.80 220.84 L415.87 220.84 L416.93 220.85 L417.99 220.85 L419.06 220.85 L420.12 220.86 L421.19 220.86 L422.25 220.86 L423.32 220.86 L424.38 220.86 L425.45 220.87 L426.51 220.87 L427.58 220.87 L428.64 220.87 L429.71 220.87 L430.77 220.87 L431.84 220.88 L432.90 220.88 L433.97 220.88" fill="none" stroke="#ff7f00" stroke-width="2.7" stroke-dasharray="6.2 8.32" stroke-dashoffset="7.92" stroke-linejoin="round"/>
<path d="M37.45 391.33 L38.38 391.33 L39.44 391.33 L40.51 391.33 L41.57 391.33 L42.64 391.33 L43.70 391.33 L44.77 391.33 L45.83 391.33 L46.90 391.33 L47.96 391.33 L49.03 391.33 L50.09 391.33 L51.16 391.33 L52.22 391.33 L53.29 391.33 L54.35 391.33 L55.42 391.33 L56.48 391.33 L57.55 391.33 L58.61 391.33 L59.68 391.33 L60.74 391.33 L61.80 391.33 L62.87 391.33 L63.93 391.33 L65.00 391.33 L66.06 391.33 L67.13 391.33 L68.19 391.33 L69.26 391.33 L70.32 391.33 L71.39 391.33 L72.45 391.33 L73.52 391.33 L74.58 391.33 L75.65 391.33 L76.71 391.33 L77.78 391.33 L78.84 391.33 L79.91 391.33 L80.97 391.33 L82.04 391.33 L83.10 391.34 L84.17 391.34 L85.23 391.34 L86.30 391.34 L87.36 391.34 L88.43 391.34 L89.49 391.34 L90.56 391.35 L91.62 391.35 L92.69 391.35 L93.75 391.36 L94.82 391.36 L95.88 391.37 L96.94 391.37 L98.01 391.38 L99.07 391.39 L100.14 391.40 L101.20 391.41 L102.27 391.43 L103.33 391.44 L104.40 391.46 L105.46 391.49 L106.53 391.51 L107.59 391.54 L108.66 391.58 L109.72 391.62 L110.79 391.67 L111.85 391.73 L112.65 391.78 L113.45 391.84 L114.25 391.90 L115.05 391.97 L115.85 392.05 L116.64 392.13 L117.44 392.23 L118.24 392.33 L119.04 392.45 L119.84 392.58 L120.64 392.72 L121.44 392.87 L122.23 393.04 L123.03 393.23 L123.83 393.43 L124.63 393.64 L125.43 393.88 L126.23 394.12 L127.03 394.38 L127.83 394.66 L128.62 394.95 L129.42 395.25 L130.22 395.56 L131.02 395.87 L131.82 396.21 L132.62 396.55 L133.42 396.89 L134.21 397.21 L135.01 397.53 L135.81 397.84 L136.61 398.13 L137.41 398.40 L138.21 398.65 L139.01 398.88 L139.80 399.09 L140.60 399.27 L141.40 399.44 L142.20 399.58 L143.00 399.70 L143.80 399.80 L144.60 399.89 L145.40 399.97 L146.19 400.03 L146.99 400.08 L148.06 400.14 L149.12 400.18 L150.19 400.21 L151.25 400.23 L152.32 400.25 L153.38 400.27 L154.45 400.27 L155.51 400.28 L156.58 400.29 L157.64 400.29 L158.71 400.29 L159.77 400.30 L160.84 400.30 L161.90 400.30 L162.96 400.30 L164.03 400.30 L165.09 400.30 L166.16 400.30 L167.22 400.30 L168.29 400.30 L169.35 400.30 L170.42 400.30 L171.48 400.30 L172.55 400.30 L173.61 400.30 L174.68 400.30 L175.74 400.30 L176.81 400.30 L177.87 400.30 L178.94 400.30 L180.00 400.30 L181.07 400.30 L182.13 400.30 L183.20 400.30 L184.26 400.30 L185.33 400.30 L186.39 400.30 L187.46 400.30 L188.52 400.30 L189.59 400.30 L190.65 400.30 L191.72 400.30 L192.78 400.30 L193.85 400.30 L194.91 400.30 L195.98 400.30 L197.04 400.30 L198.10 400.30 L199.17 400.30 L200.23 400.30 L201.30 400.30 L202.36 400.30 L203.43 400.30 L204.49 400.30 L205.56 400.30 L206.62 400.30 L207.69 400.30 L208.75 400.30 L209.82 400.30 L210.88 400.30 L211.95 400.30 L213.01 400.30 L214.08 400.30 L215.14 400.30 L216.21 400.30 L217.27 400.30 L218.34 400.30 L219.40 400.30 L220.47 400.30 L221.53 400.30 L222.60 400.30 L223.66 400.30 L224.73 400.30 L225.79 400.30 L226.86 400.30 L227.92 400.30 L228.99 400.30 L230.05 400.30 L231.11 400.30 L232.18 400.30 L233.24 400.30 L234.31 400.30 L235.37 400.30 L236.44 400.30 L237.50 400.30 L238.57 400.30 L239.63 400.30 L240.70 400.30 L241.76 400.30 L242.83 400.30 L243.89 400.30 L244.96 400.30 L246.02 400.30 L247.09 400.30 L248.15 400.30 L249.22 400.30 L250.28 400.30 L251.35 400.30 L252.41 400.30 L253.48 400.30 L254.54 400.30 L255.61 400.30 L256.67 400.30 L257.74 400.30 L258.80 400.30 L259.87 400.30 L260.93 400.30 L262.00 400.30 L263.06 400.30 L264.13 400.30 L265.19 400.30 L266.25 400.30 L267.32 400.30 L268.38 400.30 L269.45 400.30 L270.51 400.30 L271.58 400.30 L272.64 400.30 L273.71 400.30 L274.77 400.30 L275.84 400.30 L276.90 400.30 L277.97 400.30 L279.03 400.30 L280.10 400.30 L281.16 400.30 L282.23 400.30 L283.29 400.30 L284.36 400.30 L285.42 400.30 L286.49 400.30 L287.55 400.30 L288.62 400.30 L289.68 400.30 L290.75 400.30 L291.81 400.30 L292.88 400.30 L293.94 400.30 L295.01 400.30 L296.07 400.30 L297.14 400.30 L298.20 400.30 L299.26 400.30 L300.33 400.30 L301.39 400.30 L302.46 400.30 L303.52 400.30 L304.59 400.30 L305.65 400.30 L306.72 400.30 L307.78 400.30 L308.85 400.30 L309.91 400.30 L310.98 400.30 L312.04 400.30 L313.11 400.30 L314.17 400.30 L315.24 400.30 L316.30 400.30 L317.37 400.30 L318.43 400.30 L319.50 400.30 L320.56 400.30 L321.63 400.30 L322.69 400.30 L323.76 400.30 L324.82 400.30 L325.89 400.30 L326.95 400.30 L328.02 400.30 L329.08 400.30 L330.15 400.30 L331.21 400.30 L332.28 400.30 L333.34 400.30 L334.40 400.30 L335.47 400.30 L336.53 400.30 L337.60 400.30 L338.66 400.30 L339.73 400.30 L340.79 400.30 L341.86 400.30 L342.92 400.30 L343.99 400.30 L345.05 400.30 L346.12 400.30 L347.18 400.30 L348.25 400.30 L349.31 400.30 L350.38 400.30 L351.44 400.30 L352.51 400.30 L353.57 400.30 L354.64 400.30 L355.70 400.30 L356.77 400.30 L357.83 400.30 L358.90 400.30 L359.96 400.30 L361.03 400.30 L362.09 400.30 L363.16 400.30 L364.22 400.30 L365.29 400.30 L366.35 400.30 L367.41 400.30 L368.48 400.30 L369.54 400.30 L370.61 400.30 L371.67 400.30 L372.74 400.30 L373.80 400.30 L374.87 400.30 L375.93 400.30 L377.00 400.30 L378.06 400.30 L379.13 400.30 L380.19 400.30 L381.26 400.30 L382.32 400.30 L383.39 400.30 L384.45 400.30 L385.52 400.30 L386.58 400.30 L387.65 400.30 L388.71 400.30 L389.78 400.30 L390.84 400.30 L391.91 400.30 L392.97 400.30 L394.04 400.30 L395.10 400.30 L396.17 400.30 L397.23 400.30 L398.30 400.30 L399.36 400.30 L400.43 400.30 L401.49 400.30 L402.55 400.30 L403.62 400.30 L404.68 400.30 L405.75 400.30 L406.81 400.30 L407.88 400.30 L408.94 400.30 L410.01 400.30 L411.07 400.30 L412.14 400.30 L413.20 400.30 L414.27 400.30 L415.33 400.30 L416.40 400.30 L417.46 400.30 L418.53 400.30 L419.59 400.30 L420.66 400.30 L421.72 400.30 L422.79 400.30 L423.85 400.30 L424.92 400.30 L425.98 400.30 L427.05 400.30 L428.11 400.30 L429.18 400.30 L430.24 400.30 L431.31 400.30 L432.37 400.30 L433.44 400.30 L434.50 400.30" fill="none" stroke="#dc2d0a" stroke-width="2.7" stroke-dasharray="12.5 15.47" stroke-dashoffset="15.6" stroke-linejoin="round"/>
</g>
<g><line x1="37.79" y1="418.20" x2="37.79" y2="415.10" stroke="#1c1c1c" stroke-width="1.0"/>
<line x1="37.79" y1="23.40" x2="37.79" y2="26.50" stroke="#1c1c1c" stroke-width="1.0"/>
<line x1="40.30" y1="418.20" x2="40.30" y2="415.10" stroke="#1c1c1c" stroke-width="1.0"/>
<line x1="40.30" y1="23.40" x2="40.30" y2="26.50" stroke="#1c1c1c" stroke-width="1.0"/>
<line x1="42.52" y1="418.20" x2="42.52" y2="415.10" stroke="#1c1c1c" stroke-width="1.0"/>
<line x1="42.52" y1="23.40" x2="42.52" y2="26.50" stroke="#1c1c1c" stroke-width="1.0"/>
<line x1="44.50" y1="418.20" x2="44.50" y2="413.90" stroke="#1c1c1c" stroke-width="1.0"/>
<line x1="44.50" y1="23.40" x2="44.50" y2="27.70" stroke="#1c1c1c" stroke-width="1.0"/>
<line x1="57.53" y1="418.20" x2="57.53" y2="415.10" stroke="#1c1c1c" stroke-width="1.0"/>
<line x1="57.53" y1="23.40" x2="57.53" y2="26.50" stroke="#1c1c1c" stroke-width="1.0"/>
<line x1="65.16" y1="418.20" x2="65.16" y2="415.10" stroke="#1c1c1c" stroke-width="1.0"/>
<line x1="65.16" y1="23.40" x2="65.16" y2="26.50" stroke="#1c1c1c" stroke-width="1.0"/>
<line x1="70.57" y1="418.20" x2="70.57" y2="415.10" stroke="#1c1c1c" stroke-width="1.0"/>
<line x1="70.57" y1="23.40" x2="70.57" y2="26.50" stroke="#1c1c1c" stroke-width="1.0"/>
<line x1="74.77" y1="418.20" x2="74.77" y2="415.10" stroke="#1c1c1c" stroke-width="1.0"/>
<line x1="74.77" y1="23.40" x2="74.77" y2="26.50" stroke="#1c1c1c" stroke-width="1.0"/>
<line x1="78.19" y1="418.20" x2="78.19" y2="415.10" stroke="#1c1c1c" stroke-width="1.0"/>
<line x1="78.19" y1="23.40" x2="78.19" y2="26.50" stroke="#1c1c1c" stroke-width="1.0"/>
<line x1="81.09" y1="418.20" x2="81.09" y2="415.10" stroke="#1c1c1c" stroke-width="1.0"/>
<line x1="81.09" y1="23.40" x2="81.09" y2="26.50" stroke="#1c1c1c" stroke-width="1.0"/>
<line x1="83.60" y1="418.20" x2="83.60" y2="415.10" stroke="#1c1c1c" stroke-width="1.0"/>
<line x1="83.60" y1="23.40" x2="83.60" y2="26.50" stroke="#1c1c1c" stroke-width="1.0"/>
<line x1="85.82" y1="418.20" x2="85.82" y2="415.10" stroke="#1c1c1c" stroke-width="1.0"/>
<line x1="85.82" y1="23.40" x2="85.82" y2="26.50" stroke="#1c1c1c" stroke-width="1.0"/>
<line x1="87.80" y1="418.20" x2="87.80" y2="413.90" stroke="#1c1c1c" stroke-width="1.0"/>
<line x1="87.80" y1="23.40" x2="87.80" y2="27.70" stroke="#1c1c1c" stroke-width="1.0"/>
<line x1="100.83" y1="418.20" x2="100.83" y2="415.10" stroke="#1c1c1c" stroke-width="1.0"/>
<line x1="100.83" y1="23.40" x2="100.83" y2="26.50" stroke="#1c1c1c" stroke-width="1.0"/>
<line x1="108.46" y1="418.20" x2="108.46" y2="415.10" stroke="#1c1c1c" stroke-width="1.0"/>
<line x1="108.46" y1="23.40" x2="108.46" y2="26.50" stroke="#1c1c1c" stroke-width="1.0"/>
<line x1="113.87" y1="418.20" x2="113.87" y2="415.10" stroke="#1c1c1c" stroke-width="1.0"/>
<line x1="113.87" y1="23.40" x2="113.87" y2="26.50" stroke="#1c1c1c" stroke-width="1.0"/>
<line x1="118.07" y1="418.20" x2="118.07" y2="415.10" stroke="#1c1c1c" stroke-width="1.0"/>
<line x1="118.07" y1="23.40" x2="118.07" y2="26.50" stroke="#1c1c1c" stroke-width="1.0"/>
<line x1="121.49" y1="418.20" x2="121.49" y2="415.10" stroke="#1c1c1c" stroke-width="1.0"/>
<line x1="121.49" y1="23.40" x2="121.49" y2="26.50" stroke="#1c1c1c" stroke-width="1.0"/>
<line x1="124.39" y1="418.20" x2="124.39" y2="415.10" stroke="#1c1c1c" stroke-width="1.0"/>
<line x1="124.39" y1="23.40" x2="124.39" y2="26.50" stroke="#1c1c1c" stroke-width="1.0"/>
<line x1="126.90" y1="418.20" x2="126.90" y2="415.10" stroke="#1c1c1c" stroke-width="1.0"/>
<line x1="126.90" y1="23.40" x2="126.90" y2="26.50" stroke="#1c1c1c" stroke-width="1.0"/>
<line x1="129.12" y1="418.20" x2="129.12" y2="415.10" stroke="#1c1c1c" stroke-width="1.0"/>
<line x1="129.12" y1="23.40" x2="129.12" y2="26.50" stroke="#1c1c1c" stroke-width="1.0"/>
<line x1="131.10" y1="418.20" x2="131.10" y2="413.90" stroke="#1c1c1c" stroke-width="1.0"/>
<line x1="131.10" y1="23.40" x2="131.10" y2="27.70" stroke="#1c1c1c" stroke-width="1.0"/>
<line x1="144.13" y1="418.20" x2="144.13" y2="415.10" stroke="#1c1c1c" stroke-width="1.0"/>
<line x1="144.13" y1="23.40" x2="144.13" y2="26.50" stroke="#1c1c1c" stroke-width="1.0"/>
<line x1="151.76" y1="418.20" x2="151.76" y2="415.10" stroke="#1c1c1c" stroke-width="1.0"/>
<line x1="151.76" y1="23.40" x2="151.76" y2="26.50" stroke="#1c1c1c" stroke-width="1.0"/>
<line x1="157.17" y1="418.20" x2="157.17" y2="415.10" stroke="#1c1c1c" stroke-width="1.0"/>
<line x1="157.17" y1="23.40" x2="157.17" y2="26.50" stroke="#1c1c1c" stroke-width="1.0"/>
<line x1="161.37" y1="418.20" x2="161.37" y2="415.10" stroke="#1c1c1c" stroke-width="1.0"/>
<line x1="161.37" y1="23.40" x2="161.37" y2="26.50" stroke="#1c1c1c" stroke-width="1.0"/>
<line x1="164.79" y1="418.20" x2="164.79" y2="415.10" stroke="#1c1c1c" stroke-width="1.0"/>
<line x1="164.79" y1="23.40" x2="164.79" y2="26.50" stroke="#1c1c1c" stroke-width="1.0"/>
<line x1="167.69" y1="418.20" x2="167.69" y2="415.10" stroke="#1c1c1c" stroke-width="1.0"/>
<line x1="167.69" y1="23.40" x2="167.69" y2="26.50" stroke="#1c1c1c" stroke-width="1.0"/>
<line x1="170.20" y1="418.20" x2="170.20" y2="415.10" stroke="#1c1c1c" stroke-width="1.0"/>
<line x1="170.20" y1="23.40" x2="170.20" y2="26.50" stroke="#1c1c1c" stroke-width="1.0"/>
<line x1="172.42" y1="418.20" x2="172.42" y2="415.10" stroke="#1c1c1c" stroke-width="1.0"/>
<line x1="172.42" y1="23.40" x2="172.42" y2="26.50" stroke="#1c1c1c" stroke-width="1.0"/>
<line x1="174.40" y1="418.20" x2="174.40" y2="413.90" stroke="#1c1c1c" stroke-width="1.0"/>
<line x1="174.40" y1="23.40" x2="174.40" y2="27.70" stroke="#1c1c1c" stroke-width="1.0"/>
<line x1="187.43" y1="418.20" x2="187.43" y2="415.10" stroke="#1c1c1c" stroke-width="1.0"/>
<line x1="187.43" y1="23.40" x2="187.43" y2="26.50" stroke="#1c1c1c" stroke-width="1.0"/>
<line x1="195.06" y1="418.20" x2="195.06" y2="415.10" stroke="#1c1c1c" stroke-width="1.0"/>
<line x1="195.06" y1="23.40" x2="195.06" y2="26.50" stroke="#1c1c1c" stroke-width="1.0"/>
<line x1="200.47" y1="418.20" x2="200.47" y2="415.10" stroke="#1c1c1c" stroke-width="1.0"/>
<line x1="200.47" y1="23.40" x2="200.47" y2="26.50" stroke="#1c1c1c" stroke-width="1.0"/>
<line x1="204.67" y1="418.20" x2="204.67" y2="415.10" stroke="#1c1c1c" stroke-width="1.0"/>
<line x1="204.67" y1="23.40" x2="204.67" y2="26.50" stroke="#1c1c1c" stroke-width="1.0"/>
<line x1="208.09" y1="418.20" x2="208.09" y2="415.10" stroke="#1c1c1c" stroke-width="1.0"/>
<line x1="208.09" y1="23.40" x2="208.09" y2="26.50" stroke="#1c1c1c" stroke-width="1.0"/>
<line x1="210.99" y1="418.20" x2="210.99" y2="415.10" stroke="#1c1c1c" stroke-width="1.0"/>
<line x1="210.99" y1="23.40" x2="210.99" y2="26.50" stroke="#1c1c1c" stroke-width="1.0"/>
<line x1="213.50" y1="418.20" x2="213.50" y2="415.10" stroke="#1c1c1c" stroke-width="1.0"/>
<line x1="213.50" y1="23.40" x2="213.50" y2="26.50" stroke="#1c1c1c" stroke-width="1.0"/>
<line x1="215.72" y1="418.20" x2="215.72" y2="415.10" stroke="#1c1c1c" stroke-width="1.0"/>
<line x1="215.72" y1="23.40" x2="215.72" y2="26.50" stroke="#1c1c1c" stroke-width="1.0"/>
<line x1="217.70" y1="418.20" x2="217.70" y2="413.90" stroke="#1c1c1c" stroke-width="1.0"/>
<line x1="217.70" y1="23.40" x2="217.70" y2="27.70" stroke="#1c1c1c" stroke-width="1.0"/>
<line x1="230.73" y1="418.20" x2="230.73" y2="415.10" stroke="#1c1c1c" stroke-width="1.0"/>
<line x1="230.73" y1="23.40" x2="230.73" y2="26.50" stroke="#1c1c1c" stroke-width="1.0"/>
<line x1="238.36" y1="418.20" x2="238.36" y2="415.10" stroke="#1c1c1c" stroke-width="1.0"/>
<line x1="238.36" y1="23.40" x2="238.36" y2="26.50" stroke="#1c1c1c" stroke-width="1.0"/>
<line x1="243.77" y1="418.20" x2="243.77" y2="415.10" stroke="#1c1c1c" stroke-width="1.0"/>
<line x1="243.77" y1="23.40" x2="243.77" y2="26.50" stroke="#1c1c1c" stroke-width="1.0"/>
<line x1="247.97" y1="418.20" x2="247.97" y2="415.10" stroke="#1c1c1c" stroke-width="1.0"/>
<line x1="247.97" y1="23.40" x2="247.97" y2="26.50" stroke="#1c1c1c" stroke-width="1.0"/>
<line x1="251.39" y1="418.20" x2="251.39" y2="415.10" stroke="#1c1c1c" stroke-width="1.0"/>
<line x1="251.39" y1="23.40" x2="251.39" y2="26.50" stroke="#1c1c1c" stroke-width="1.0"/>
<line x1="254.29" y1="418.20" x2="254.29" y2="415.10" stroke="#1c1c1c" stroke-width="1.0"/>
<line x1="254.29" y1="23.40" x2="254.29" y2="26.50" stroke="#1c1c1c" stroke-width="1.0"/>
<line x1="256.80" y1="418.20" x2="256.80" y2="415.10" stroke="#1c1c1c" stroke-width="1.0"/>
<line x1="256.80" y1="23.40" x2="256.80" y2="26.50" stroke="#1c1c1c" stroke-width="1.0"/>
<line x1="259.02" y1="418.20" x2="259.02" y2="415.10" stroke="#1c1c1c" stroke-width="1.0"/>
<line x1="259.02" y1="23.40" x2="259.02" y2="26.50" stroke="#1c1c1c" stroke-width="1.0"/>
<line x1="261.00" y1="418.20" x2="261.00" y2="413.90" stroke="#1c1c1c" stroke-width="1.0"/>
<line x1="261.00" y1="23.40" x2="261.00" y2="27.70" stroke="#1c1c1c" stroke-width="1.0"/>
<line x1="274.03" y1="418.20" x2="274.03" y2="415.10" stroke="#1c1c1c" stroke-width="1.0"/>
<line x1="274.03" y1="23.40" x2="274.03" y2="26.50" stroke="#1c1c1c" stroke-width="1.0"/>
<line x1="281.66" y1="418.20" x2="281.66" y2="415.10" stroke="#1c1c1c" stroke-width="1.0"/>
<line x1="281.66" y1="23.40" x2="281.66" y2="26.50" stroke="#1c1c1c" stroke-width="1.0"/>
<line x1="287.07" y1="418.20" x2="287.07" y2="415.10" stroke="#1c1c1c" stroke-width="1.0"/>
<line x1="287.07" y1="23.40" x2="287.07" y2="26.50" stroke="#1c1c1c" stroke-width="1.0"/>
<line x1="291.27" y1="418.20" x2="291.27" y2="415.10" stroke="#1c1c1c" stroke-width="1.0"/>
<line x1="291.27" y1="23.40" x2="291.27" y2="26.50" stroke="#1c1c1c" stroke-width="1.0"/>
<line x1="294.69" y1="418.20" x2="294.69" y2="415.10" stroke="#1c1c1c" stroke-width="1.0"/>
<line x1="294.69" y1="23.40" x2="294.69" y2="26.50" stroke="#1c1c1c" stroke-width="1.0"/>
<line x1="297.59" y1="418.20" x2="297.59" y2="415.10" stroke="#1c1c1c" stroke-width="1.0"/>
<line x1="297.59" y1="23.40" x2="297.59" y2="26.50" stroke="#1c1c1c" stroke-width="1.0"/>
<line x1="300.10" y1="418.20" x2="300.10" y2="415.10" stroke="#1c1c1c" stroke-width="1.0"/>
<line x1="300.10" y1="23.40" x2="300.10" y2="26.50" stroke="#1c1c1c" stroke-width="1.0"/>
<line x1="302.32" y1="418.20" x2="302.32" y2="415.10" stroke="#1c1c1c" stroke-width="1.0"/>
<line x1="302.32" y1="23.40" x2="302.32" y2="26.50" stroke="#1c1c1c" stroke-width="1.0"/>
<line x1="304.30" y1="418.20" x2="304.30" y2="413.90" stroke="#1c1c1c" stroke-width="1.0"/>
<line x1="304.30" y1="23.40" x2="304.30" y2="27.70" stroke="#1c1c1c" stroke-width="1.0"/>
<line x1="317.33" y1="418.20" x2="317.33" y2="415.10" stroke="#1c1c1c" stroke-width="1.0"/>
<line x1="317.33" y1="23.40" x2="317.33" y2="26.50" stroke="#1c1c1c" stroke-width="1.0"/>
<line x1="324.96" y1="418.20" x2="324.96" y2="415.10" stroke="#1c1c1c" stroke-width="1.0"/>
<line x1="324.96" y1="23.40" x2="324.96" y2="26.50" stroke="#1c1c1c" stroke-width="1.0"/>
<line x1="330.37" y1="418.20" x2="330.37" y2="415.10" stroke="#1c1c1c" stroke-width="1.0"/>
<line x1="330.37" y1="23.40" x2="330.37" y2="26.50" stroke="#1c1c1c" stroke-width="1.0"/>
<line x1="334.57" y1="418.20" x2="334.57" y2="415.10" stroke="#1c1c1c" stroke-width="1.0"/>
<line x1="334.57" y1="23.40" x2="334.57" y2="26.50" stroke="#1c1c1c" stroke-width="1.0"/>
<line x1="337.99" y1="418.20" x2="337.99" y2="415.10" stroke="#1c1c1c" stroke-width="1.0"/>
<line x1="337.99" y1="23.40" x2="337.99" y2="26.50" stroke="#1c1c1c" stroke-width="1.0"/>
<line x1="340.89" y1="418.20" x2="340.89" y2="415.10" stroke="#1c1c1c" stroke-width="1.0"/>
<line x1="340.89" y1="23.40" x2="340.89" y2="26.50" stroke="#1c1c1c" stroke-width="1.0"/>
<line x1="343.40" y1="418.20" x2="343.40" y2="415.10" stroke="#1c1c1c" stroke-width="1.0"/>
<line x1="343.40" y1="23.40" x2="343.40" y2="26.50" stroke="#1c1c1c" stroke-width="1.0"/>
<line x1="345.62" y1="418.20" x2="345.62" y2="415.10" stroke="#1c1c1c" stroke-width="1.0"/>
<line x1="345.62" y1="23.40" x2="345.62" y2="26.50" stroke="#1c1c1c" stroke-width="1.0"/>
<line x1="347.60" y1="418.20" x2="347.60" y2="413.90" stroke="#1c1c1c" stroke-width="1.0"/>
<line x1="347.60" y1="23.40" x2="347.60" y2="27.70" stroke="#1c1c1c" stroke-width="1.0"/>
<line x1="360.63" y1="418.20" x2="360.63" y2="415.10" stroke="#1c1c1c" stroke-width="1.0"/>
<line x1="360.63" y1="23.40" x2="360.63" y2="26.50" stroke="#1c1c1c" stroke-width="1.0"/>
<line x1="368.26" y1="418.20" x2="368.26" y2="415.10" stroke="#1c1c1c" stroke-width="1.0"/>
<line x1="368.26" y1="23.40" x2="368.26" y2="26.50" stroke="#1c1c1c" stroke-width="1.0"/>
<line x1="373.67" y1="418.20" x2="373.67" y2="415.10" stroke="#1c1c1c" stroke-width="1.0"/>
<line x1="373.67" y1="23.40" x2="373.67" y2="26.50" stroke="#1c1c1c" stroke-width="1.0"/>
<line x1="377.87" y1="418.20" x2="377.87" y2="415.10" stroke="#1c1c1c" stroke-width="1.0"/>
<line x1="377.87" y1="23.40" x2="377.87" y2="26.50" stroke="#1c1c1c" stroke-width="1.0"/>
<line x1="381.29" y1="418.20" x2="381.29" y2="415.10" stroke="#1c1c1c" stroke-width="1.0"/>
<line x1="381.29" y1="23.40" x2="381.29" y2="26.50" stroke="#1c1c1c" stroke-width="1.0"/>
<line x1="384.19" y1="418.20" x2="384.19" y2="415.10" stroke="#1c1c1c" stroke-width="1.0"/>
<line x1="384.19" y1="23.40" x2="384.19" y2="26.50" stroke="#1c1c1c" stroke-width="1.0"/>
<line x1="386.70" y1="418.20" x2="386.70" y2="415.10" stroke="#1c1c1c" stroke-width="1.0"/>
<line x1="386.70" y1="23.40" x2="386.70" y2="26.50" stroke="#1c1c1c" stroke-width="1.0"/>
<line x1="388.92" y1="418.20" x2="388.92" y2="415.10" stroke="#1c1c1c" stroke-width="1.0"/>
<line x1="388.92" y1="23.40" x2="388.92" y2="26.50" stroke="#1c1c1c" stroke-width="1.0"/>
<line x1="390.90" y1="418.20" x2="390.90" y2="413.90" stroke="#1c1c1c" stroke-width="1.0"/>
<line x1="390.90" y1="23.40" x2="390.90" y2="27.70" stroke="#1c1c1c" stroke-width="1.0"/>
<line x1="403.93" y1="418.20" x2="403.93" y2="415.10" stroke="#1c1c1c" stroke-width="1.0"/>
<line x1="403.93" y1="23.40" x2="403.93" y2="26.50" stroke="#1c1c1c" stroke-width="1.0"/>
<line x1="411.56" y1="418.20" x2="411.56" y2="415.10" stroke="#1c1c1c" stroke-width="1.0"/>
<line x1="411.56" y1="23.40" x2="411.56" y2="26.50" stroke="#1c1c1c" stroke-width="1.0"/>
<line x1="416.97" y1="418.20" x2="416.97" y2="415.10" stroke="#1c1c1c" stroke-width="1.0"/>
<line x1="416.97" y1="23.40" x2="416.97" y2="26.50" stroke="#1c1c1c" stroke-width="1.0"/>
<line x1="421.17" y1="418.20" x2="421.17" y2="415.10" stroke="#1c1c1c" stroke-width="1.0"/>
<line x1="421.17" y1="23.40" x2="421.17" y2="26.50" stroke="#1c1c1c" stroke-width="1.0"/>
<line x1="424.59" y1="418.20" x2="424.59" y2="415.10" stroke="#1c1c1c" stroke-width="1.0"/>
<line x1="424.59" y1="23.40" x2="424.59" y2="26.50" stroke="#1c1c1c" stroke-width="1.0"/>
<line x1="427.49" y1="418.20" x2="427.49" y2="415.10" stroke="#1c1c1c" stroke-width="1.0"/>
<line x1="427.49" y1="23.40" x2="427.49" y2="26.50" stroke="#1c1c1c" stroke-width="1.0"/>
<line x1="430.00" y1="418.20" x2="430.00" y2="415.10" stroke="#1c1c1c" stroke-width="1.0"/>
<line x1="430.00" y1="23.40" x2="430.00" y2="26.50" stroke="#1c1c1c" stroke-width="1.0"/>
<line x1="37.45" y1="400.30" x2="41.05" y2="400.30" stroke="#1c1c1c" stroke-width="1.0"/>
<line x1="432.50" y1="400.30" x2="428.90" y2="400.30" stroke="#1c1c1c" stroke-width="1.0"/>
<line x1="37.45" y1="382.36" x2="40.25" y2="382.36" stroke="#1c1c1c" stroke-width="1.0"/>
<line x1="432.50" y1="382.36" x2="429.70" y2="382.36" stroke="#1c1c1c" stroke-width="1.0"/>
<line x1="37.45" y1="364.42" x2="40.25" y2="364.42" stroke="#1c1c1c" stroke-width="1.0"/>
<line x1="432.50" y1="364.42" x2="429.70" y2="364.42" stroke="#1c1c1c" stroke-width="1.0"/>
<line x1="37.45" y1="346.48" x2="40.25" y2="346.48" stroke="#1c1c1c" stroke-width="1.0"/>
<line x1="432.50" y1="346.48" x2="429.70" y2="346.48" stroke="#1c1c1c" stroke-width="1.0"/>
<line x1="37.45" y1="328.54" x2="40.25" y2="328.54" stroke="#1c1c1c" stroke-width="1.0"/>
<line x1="432.50" y1="328.54" x2="429.70" y2="328.54" stroke="#1c1c1c" stroke-width="1.0"/>
<line x1="37.45" y1="310.60" x2="41.05" y2="310.60" stroke="#1c1c1c" stroke-width="1.0"/>
<line x1="432.50" y1="310.60" x2="428.90" y2="310.60" stroke="#1c1c1c" stroke-width="1.0"/>
<line x1="37.45" y1="292.66" x2="40.25" y2="292.66" stroke="#1c1c1c" stroke-width="1.0"/>
<line x1="432.50" y1="292.66" x2="429.70" y2="292.66" stroke="#1c1c1c" stroke-width="1.0"/>
<line x1="37.45" y1="274.72" x2="40.25" y2="274.72" stroke="#1c1c1c" stroke-width="1.0"/>
<line x1="432.50" y1="274.72" x2="429.70" y2="274.72" stroke="#1c1c1c" stroke-width="1.0"/>
<line x1="37.45" y1="256.78" x2="40.25" y2="256.78" stroke="#1c1c1c" stroke-width="1.0"/>
<line x1="432.50" y1="256.78" x2="429.70" y2="256.78" stroke="#1c1c1c" stroke-width="1.0"/>
<line x1="37.45" y1="238.84" x2="40.25" y2="238.84" stroke="#1c1c1c" stroke-width="1.0"/>
<line x1="432.50" y1="238.84" x2="429.70" y2="238.84" stroke="#1c1c1c" stroke-width="1.0"/>
<line x1="37.45" y1="220.90" x2="41.05" y2="220.90" stroke="#1c1c1c" stroke-width="1.0"/>
<line x1="432.50" y1="220.90" x2="428.90" y2="220.90" stroke="#1c1c1c" stroke-width="1.0"/>
<line x1="37.45" y1="202.96" x2="40.25" y2="202.96" stroke="#1c1c1c" stroke-width="1.0"/>
<line x1="432.50" y1="202.96" x2="429.70" y2="202.96" stroke="#1c1c1c" stroke-width="1.0"/>
<line x1="37.45" y1="185.02" x2="40.25" y2="185.02" stroke="#1c1c1c" stroke-width="1.0"/>
<line x1="432.50" y1="185.02" x2="429.70" y2="185.02" stroke="#1c1c1c" stroke-width="1.0"/>
<line x1="37.45" y1="167.08" x2="40.25" y2="167.08" stroke="#1c1c1c" stroke-width="1.0"/>
<line x1="432.50" y1="167.08" x2="429.70" y2="167.08" stroke="#1c1c1c" stroke-width="1.0"/>
<line x1="37.45" y1="149.14" x2="40.25" y2="149.14" stroke="#1c1c1c" stroke-width="1.0"/>
<line x1="432.50" y1="149.14" x2="429.70" y2="149.14" stroke="#1c1c1c" stroke-width="1.0"/>
<line x1="37.45" y1="131.20" x2="41.05" y2="131.20" stroke="#1c1c1c" stroke-width="1.0"/>
<line x1="432.50" y1="131.20" x2="428.90" y2="131.20" stroke="#1c1c1c" stroke-width="1.0"/>
<line x1="37.45" y1="113.26" x2="40.25" y2="113.26" stroke="#1c1c1c" stroke-width="1.0"/>
<line x1="432.50" y1="113.26" x2="429.70" y2="113.26" stroke="#1c1c1c" stroke-width="1.0"/>
<line x1="37.45" y1="95.32" x2="40.25" y2="95.32" stroke="#1c1c1c" stroke-width="1.0"/>
<line x1="432.50" y1="95.32" x2="429.70" y2="95.32" stroke="#1c1c1c" stroke-width="1.0"/>
<line x1="37.45" y1="77.38" x2="40.25" y2="77.38" stroke="#1c1c1c" stroke-width="1.0"/>
<line x1="432.50" y1="77.38" x2="429.70" y2="77.38" stroke="#1c1c1c" stroke-width="1.0"/>
<line x1="37.45" y1="59.44" x2="40.25" y2="59.44" stroke="#1c1c1c" stroke-width="1.0"/>
<line x1="432.50" y1="59.44" x2="429.70" y2="59.44" stroke="#1c1c1c" stroke-width="1.0"/>
<line x1="37.45" y1="41.50" x2="41.05" y2="41.50" stroke="#1c1c1c" stroke-width="1.0"/>
<line x1="432.50" y1="41.50" x2="428.90" y2="41.50" stroke="#1c1c1c" stroke-width="1.0"/></g>
<rect x="37.45" y="23.40" width="395.05" height="394.80" fill="none" stroke="#1e1e1e" stroke-width="0.9"/>
<g><text transform="translate(33.50 47.95) rotate(0.05) scale(1.0 1)" font-size="18" text-anchor="end">1.0</text>
<text transform="translate(33.50 137.65) rotate(0.05) scale(1.0 1)" font-size="18" text-anchor="end">0.5</text>
<text transform="translate(33.50 227.35) rotate(0.05) scale(1.0 1)" font-size="18" text-anchor="end">0.0</text>
<text transform="translate(34.10 317.05) rotate(0.05) scale(1.0 1)" font-size="18" text-anchor="end"><tspan dx="-0.4" dy="1.9">−</tspan><tspan dx="0.4" dy="-1.9">0.5</tspan></text>
<text transform="translate(34.10 406.75) rotate(0.05) scale(1.0 1)" font-size="18" text-anchor="end"><tspan dx="-0.4" dy="1.9">−</tspan><tspan dx="0.4" dy="-1.9">1.0</tspan></text>
<text transform="translate(44.60 438.80) rotate(0.05) scale(1.0 1)" font-size="18" text-anchor="middle">10<tspan dx="-0.5" dy="-6.1" font-size="12.8">−</tspan><tspan dy="-1.1" font-size="12.8">2</tspan></text>
<text transform="translate(87.90 438.80) rotate(0.05) scale(1.0 1)" font-size="18" text-anchor="middle">10<tspan dx="-0.5" dy="-6.1" font-size="12.8">−</tspan><tspan dy="-1.1" font-size="12.8">1</tspan></text>
<text transform="translate(131.60 438.80) rotate(0.05) scale(1.0 1)" font-size="18" text-anchor="middle">10<tspan dx="-0.5" dy="-7.2" font-size="12.8">0</tspan></text>
<text transform="translate(174.90 438.80) rotate(0.05) scale(1.0 1)" font-size="18" text-anchor="middle">10<tspan dx="-0.5" dy="-7.2" font-size="12.8">1</tspan></text>
<text transform="translate(218.20 438.80) rotate(0.05) scale(1.0 1)" font-size="18" text-anchor="middle">10<tspan dx="-0.5" dy="-7.2" font-size="12.8">2</tspan></text>
<text transform="translate(261.50 438.80) rotate(0.05) scale(1.0 1)" font-size="18" text-anchor="middle">10<tspan dx="-0.5" dy="-7.2" font-size="12.8">3</tspan></text>
<text transform="translate(304.80 438.80) rotate(0.05) scale(1.0 1)" font-size="18" text-anchor="middle">10<tspan dx="-0.5" dy="-7.2" font-size="12.8">4</tspan></text>
<text transform="translate(348.10 438.80) rotate(0.05) scale(1.0 1)" font-size="18" text-anchor="middle">10<tspan dx="-0.5" dy="-7.2" font-size="12.8">5</tspan></text>
<text transform="translate(391.40 438.80) rotate(0.05) scale(1.0 1)" font-size="18" text-anchor="middle">10<tspan dx="-0.5" dy="-7.2" font-size="12.8">6</tspan></text></g>
<g><rect x="178.05" y="238.15" width="223.9" height="139.4" rx="6.3" ry="6.3" fill="#fff" stroke="#1a1a1a" stroke-width="1.45"/>
<line x1="185.90" y1="256.50" x2="229.60" y2="256.50" stroke="#0a26c8" stroke-width="2.7" stroke-dasharray="1.2 4.7 5.2 4.635"/>
<line x1="295.10" y1="256.40" x2="343.70" y2="256.40" stroke="#000" stroke-width="2.7"/>
<line x1="185.80" y1="306.00" x2="229.40" y2="306.00" stroke="#ff0000" stroke-width="2.7" stroke-dasharray="1.3 4.73"/>
<line x1="288.00" y1="306.00" x2="329.00" y2="306.00" stroke="#ff7f00" stroke-width="2.7" stroke-dasharray="12.3 15.8"/>
<line x1="185.60" y1="353.10" x2="227.00" y2="353.10" stroke="#dc2d0a" stroke-width="2.7" stroke-dasharray="12.5 15.3"/>
<path d="M246.38 258.71 C246.75 256.97,247.85 255.87,248.81 256.24 C249.50 256.60,248.86 258.81,248.49 260.83 C248.13 263.12,248.77 264.49,250.14 264.49 C251.52 264.49,252.71 263.30,253.26 261.56 L254.73 256.28 C254.37 257.89,253.63 260.64,253.63 262.48 C253.63 263.99,254.46 264.59,255.56 264.49 C257.03 264.36,258.40 261.93,258.77 258.81 C258.86 257.71,258.68 256.97,258.40 256.79" fill="none" stroke="#111" stroke-width="1.05" stroke-linecap="round" stroke-linejoin="round"/><circle cx="258.31" cy="256.97" r="0.95" fill="#111"/>
<text transform="translate(259.40 267.60) rotate(0.05) scale(1.0 1)" font-size="13">eff</text>
<text transform="translate(356.30 264.90) rotate(0.05) scale(0.94 1)" font-size="21">Ω</text>
<text transform="translate(371.00 267.70) rotate(0.05) scale(1.2 1)" font-size="12.6">DE</text>
<text transform="translate(245.70 314.90) rotate(0.05) scale(0.94 1)" font-size="21">Ω</text>
<g transform="translate(262.30 317.50) scale(0.05652) translate(-234 -318)" fill="none" stroke="#111" stroke-linecap="round" stroke-linejoin="round"><path d="M207 238 C213 222,224 211,236 213 C246 215,250 224,248 238" stroke-width="11"/><path d="M250 226 L234 318" stroke-width="19"/><path d="M249 242 C258 224,275 212,292 212 C304 212,311 220,309 230" stroke-width="12"/><circle cx="306" cy="230" r="10" fill="#111" stroke="none"/></g>
<text transform="translate(347.80 314.90) rotate(0.05) scale(0.94 1)" font-size="21">Ω</text>
<text transform="translate(362.80 317.80) rotate(0.05) scale(1.28 1)" font-size="14" font-style="italic">m</text>
<path d="M246.46 356.51 C246.79 354.96,247.77 353.98,248.63 354.31 C249.24 354.63,248.67 356.59,248.34 358.39 C248.01 360.43,248.59 361.66,249.81 361.66 C251.04 361.66,252.10 360.59,252.59 359.04 L253.89 354.35 C253.57 355.78,252.91 358.23,252.91 359.86 C252.91 361.21,253.65 361.74,254.63 361.66 C255.93 361.53,257.16 359.37,257.49 356.59 C257.57 355.61,257.40 354.96,257.16 354.80" fill="none" stroke="#111" stroke-width="0.93" stroke-linecap="round" stroke-linejoin="round"/><circle cx="257.08" cy="354.96" r="0.85" fill="#111"/>
<text transform="translate(258.40 364.60) rotate(0.05) scale(1.135 1)" font-size="12.7" font-style="italic">DE</text></g>
<g><g transform="translate(205.40 471.83) scale(0.06423) translate(-53 -262)" fill="none" stroke="#111" stroke-linecap="round" stroke-linejoin="round"><path d="M84 142 C88 120,100 105,118 105 C140 105,150 123,175 119 C190 117,198 109,205 101" stroke-width="21"/><path d="M205 101 L53 262" stroke-width="10.5"/><path d="M53 262 C63 246,78 235,95 235 C118 235,128 257,152 260 C175 262,190 248,194 227" stroke-width="21"/></g>
<g transform="translate(217.03 475.42) scale(0.06423) translate(-234 -318)" fill="none" stroke="#111" stroke-linecap="round" stroke-linejoin="round"><path d="M207 238 C213 222,224 211,236 213 C246 215,250 224,248 238" stroke-width="11"/><path d="M250 226 L234 318" stroke-width="19"/><path d="M249 242 C258 224,275 212,292 212 C304 212,311 220,309 230" stroke-width="12"/><circle cx="306" cy="230" r="10" fill="#111" stroke="none"/></g>
<line x1="230.70" y1="465.60" x2="247.00" y2="465.60" stroke="#111" stroke-width="1.0"/>
<line x1="238.60" y1="458.00" x2="238.60" y2="473.90" stroke="#111" stroke-width="1.0"/>
<text transform="translate(253.00 471.70) rotate(0.05) scale(1.0 1)" font-size="24">1</text></g>
</svg>
</body></html>
